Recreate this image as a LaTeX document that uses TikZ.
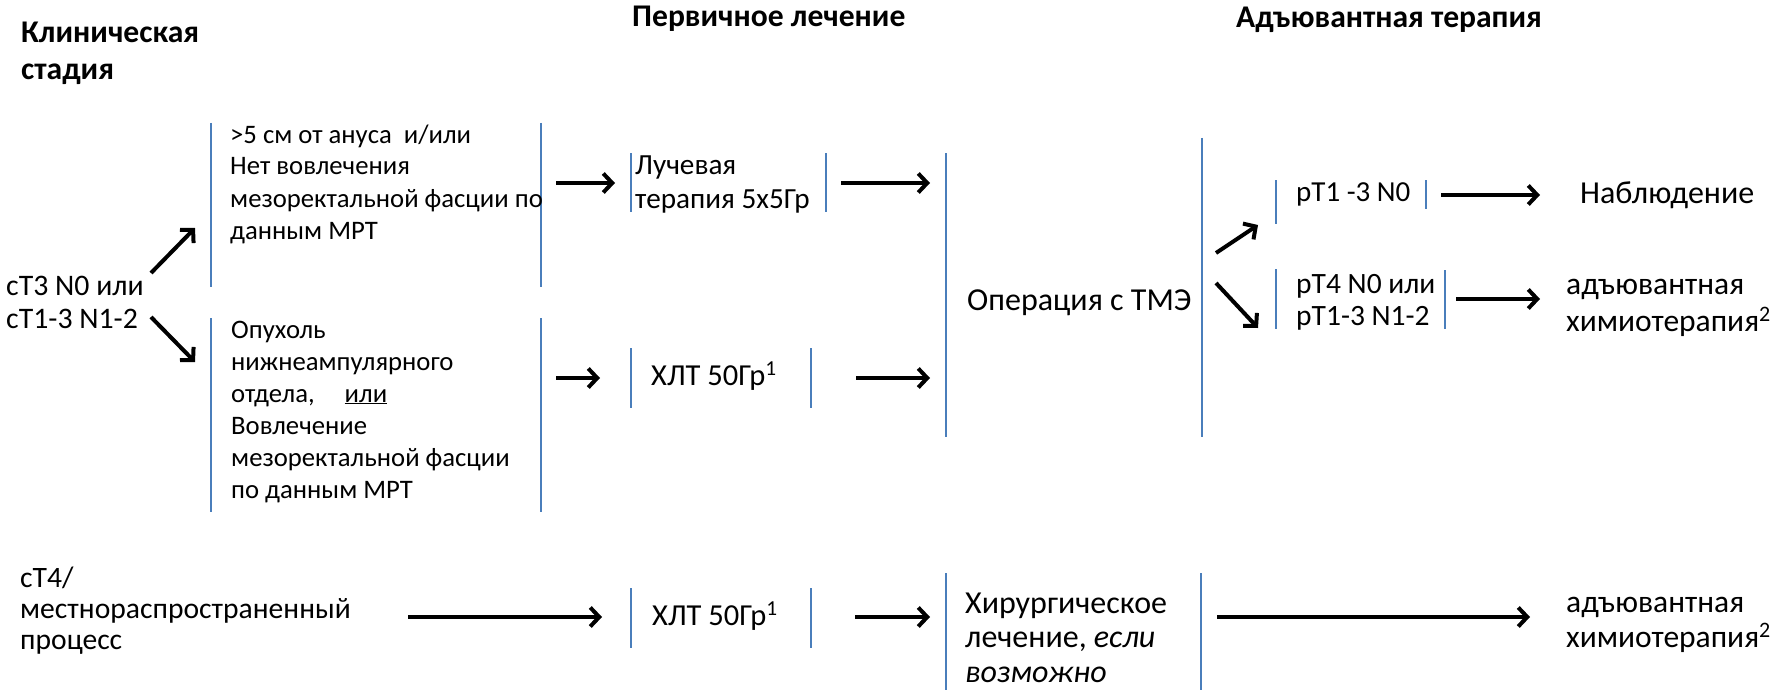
\documentclass[tikz,border=0pt]{standalone}
\usepackage{fontspec}
\setmainfont{Carlito}
\usetikzlibrary{arrows.meta}
\definecolor{brkblue}{RGB}{74,126,187}
\begin{document}
\begin{tikzpicture}[x=1pt,y=-1pt,
  txt/.style={anchor=base west, inner sep=0pt, font=\fontsize{#1}{#1}\selectfont},
  txt/.default=26.7,
  head/.style={anchor=base west, inner sep=0pt, font=\fontsize{31.6}{37}\selectfont\bfseries},
  brk/.style={draw=brkblue, line width=1.5pt},
  arr/.style={line width=4pt, -{Straight Barb[length=9pt,width=19pt]}}]
\useasboundingbox[fill=white] (0,0) rectangle (1777,690);

% headings
\node[head] (h1) at (21,43) {\vtop{\baselineskip=37pt\hbox{Клиническая}\hbox{стадия}}};
\node[head] (h2) at (632,27) {Первичное лечение};
\node[head] (h3) at (1236,28) {Адъювантная терапия};

% left column
\node[txt=29.8] (st1) at (6,295) {\vtop{\baselineskip=33pt\hbox{cT3 N0 или}\hbox{cT1-3 N1-2}}};
\node[txt=29.6] (st2) at (20,587) {\vtop{\baselineskip=31pt\hbox{cT4/}\hbox{местнораспространенный}\hbox{процесс}}};

% box 1
\draw[brk] (211,123) -- (211,287);
\draw[brk] (541,123) -- (541,287);
\node[txt] (b1) at (230,143) {\vtop{\baselineskip=32pt\hbox{>5 см от ануса\ \ и/или}\hbox{Нет вовлечения}\hbox{мезоректальной фасции по}\hbox{данным МРТ}}};

% box 2
\draw[brk] (211,318) -- (211,512);
\draw[brk] (541,318) -- (541,512);
\node[txt] (b2) at (231,338) {\vtop{\baselineskip=32pt\hbox{Опухоль}\hbox{нижнеампулярного}\hbox{отдела,\hspace{30pt}\underline{или}}\hbox{Вовлечение}\hbox{мезоректальной фасции}\hbox{по данным МРТ}}};

% radiotherapy box
\draw[brk] (631,153) -- (631,212);
\draw[brk] (826,153) -- (826,212);
\node[txt=29.2] (rt) at (635,175) {\vtop{\baselineskip=33pt\hbox{Лучевая}\hbox{терапия 5х5Гр}}};

% CRT box 1
\draw[brk] (631,348) -- (631,408);
\draw[brk] (811,348) -- (811,408);
\node[txt=30.5] (crt1) at (651,385) {ХЛТ 50Гр\textsuperscript{1}};

% operation box
\draw[brk] (946,153) -- (946,437);
\draw[brk] (1202,138) -- (1202,437);
\node[txt=32] (op) at (967,310) {Операция с ТМЭ};

% pT boxes
\draw[brk] (1276,180) -- (1276,224);
\draw[brk] (1426,180) -- (1426,209);
\node[txt=29] (p1) at (1296,201) {pT1 -3 N0};
\draw[brk] (1276,269) -- (1276,329);
\draw[brk] (1445,270) -- (1445,329);
\node[txt=29.5] (p2) at (1296,293) {\vtop{\baselineskip=32pt\hbox{pT4 N0 или}\hbox{pT1-3 N1-2}}};

\node[txt=32] (obs) at (1580,203) {Наблюдение};
\node[txt=31.5] (adj1) at (1566,294) {\vtop{\baselineskip=37pt\hbox{адъювантная}\hbox{химиотерапия\textsuperscript{2}}}};

% bottom row
\draw[brk] (631,588) -- (631,648);
\draw[brk] (811,588) -- (811,648);
\node[txt=30.5] (crt2) at (652,625) {ХЛТ 50Гр\textsuperscript{1}};
\draw[brk] (946,573) -- (946,690);
\draw[brk] (1201,573) -- (1201,690);
\node[txt=32] (sur) at (965,613) {\vtop{\baselineskip=34.5pt\hbox{Хирургическое}\hbox{лечение, \textit{если}}\hbox{\textit{возможно}}}};
\node[txt=31.5] (adj2) at (1566,612) {\vtop{\baselineskip=35pt\hbox{адъювантная}\hbox{химиотерапия\textsuperscript{2}}}};

% arrow end points
\coordinate (a1s) at (151,273); \coordinate (a1e) at (195,228);
\coordinate (a2s) at (151,317); \coordinate (a2e) at (195,362);
\coordinate (a3s) at (556,183); \coordinate (a3e) at (615,183);
\coordinate (a4s) at (841,183); \coordinate (a4e) at (930,183);
\coordinate (a5s) at (556,378); \coordinate (a5e) at (600,378);
\coordinate (a6s) at (856,378); \coordinate (a6e) at (930,378);
\coordinate (a7s) at (1216,253); \coordinate (a7e) at (1258,225);
\coordinate (a8s) at (1216,283); \coordinate (a8e) at (1258,328);
\coordinate (a9s) at (1441,195); \coordinate (a9e) at (1540,195);
\coordinate (a10s) at (1456,299); \coordinate (a10e) at (1540,299);
\coordinate (a11s) at (408,617); \coordinate (a11e) at (602,617);
\coordinate (a12s) at (855,617); \coordinate (a12e) at (930,617);
\coordinate (a13s) at (1217,617); \coordinate (a13e) at (1530,617);

\foreach \i in {1,...,13} {\draw[arr] (a\i s) -- (a\i e);}
\end{tikzpicture}
\end{document}
